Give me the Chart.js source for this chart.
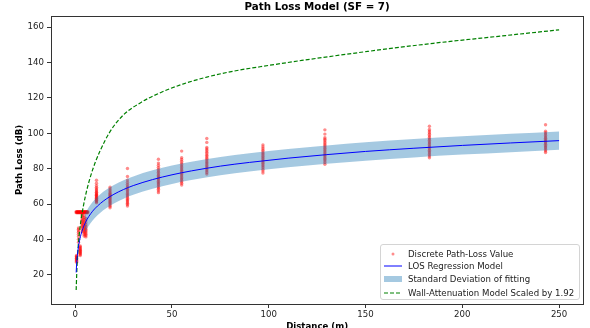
<!DOCTYPE html>
<html>
<head>
<meta charset="utf-8">
<title>Path Loss Model</title>
<script src="https://cdn.jsdelivr.net/npm/chart.js@4.4.1/dist/chart.umd.min.js"></script>
<style>
  html, body { margin: 0; padding: 0; background: #fff; overflow: hidden; }
  #wrap { position: relative; width: 590px; height: 340px; }
  #legend {
    position: absolute; left: 380px; top: 244px; width: 198px; height: 54px;
    border: 1px solid #d4d4d4; border-radius: 3px; background: rgba(255,255,255,0.8);
    font: 8.6px "DejaVu Sans", sans-serif; color: #222;
  }
  #legend .row { position: absolute; left: 0; height: 12px; line-height: 12px; white-space: nowrap; }
  #legend svg { position: absolute; left: 3px; top: 2px; }
  #legend span { position: absolute; left: 27px; top: 0; }
</style>
</head>
<body>
<div id="wrap">
  <canvas id="pathloss" width="590" height="340"></canvas>
  <div id="legend"></div>
</div>
<script>
// measured distances (m) and the path-loss readings at each of them (dB)
const lossDistances = [0.7, 1.7, 2.6, 3.6, 4.6, 5.5, 11, 18, 27, 43, 55, 68, 97, 129, 183, 243];
const lossValues = [
  [27.2, 27.8, 28.3, 28.7, 29.1, 29.4, 29.8, 30.2, 30.6, 31.0],
  [38.5, 40.2, 41.8, 43.0, 44.1, 45.0, 45.8, 46.6],
  [31.0, 31.6, 32.1, 32.6, 33.0, 33.4, 33.9, 34.3, 34.8, 35.3, 35.9, 36.4],
  [44.5, 45.5, 46.5, 47.3, 48.0, 48.8, 49.5, 50.3, 51.0, 51.8, 52.7, 53.6, 54.4],
  [42.0, 43.0, 43.8, 44.6, 45.4, 46.2, 47.0, 47.8, 48.7, 49.6, 50.5, 51.5, 52.5, 53.5],
  [41.5, 42.3, 43.0, 43.7, 44.4, 45.1, 45.9, 46.7, 47.6, 48.5, 49.6, 50.8, 52.0],
  [60.8, 61.3, 61.8, 62.2, 62.6, 63.0, 63.4, 63.8, 64.2, 64.6, 65.0, 65.4, 65.8, 66.3, 66.8, 67.4, 68.0, 68.7, 69.5, 70.5, 71.8, 73.5],
  [58.0, 58.8, 59.5, 60.2, 60.8, 61.4, 62.0, 62.6, 63.2, 63.8, 64.4, 65.0, 65.6, 66.2, 66.9, 67.7, 68.6, 69.6],
  [59.0, 59.8, 60.5, 61.2, 61.9, 62.6, 63.3, 64.0, 64.7, 65.4, 66.1, 66.9, 67.7, 68.5, 69.4, 70.3, 71.3, 72.4, 73.6, 75.6, 80.2],
  [66.5, 67.5, 68.4, 69.2, 70.0, 70.8, 71.5, 72.2, 72.9, 73.6, 74.3, 75.0, 75.7, 76.4, 77.2, 78.0, 78.9, 79.8, 80.8, 82.0, 83.2, 85.4],
  [70.8, 71.8, 72.7, 73.5, 74.3, 75.1, 75.9, 76.7, 77.5, 78.3, 79.1, 79.9, 80.7, 81.5, 82.4, 83.3, 84.3, 85.3, 86.3, 90.0],
  [77.0, 77.9, 78.8, 79.6, 80.4, 81.2, 82.0, 82.8, 83.6, 84.4, 85.2, 86.0, 86.8, 87.6, 88.5, 89.4, 90.3, 91.2, 92.0, 94.9, 97.1],
  [77.6, 78.8, 79.8, 80.7, 81.5, 82.3, 83.1, 83.9, 84.7, 85.5, 86.3, 87.1, 87.9, 88.7, 89.5, 90.4, 91.3, 92.3, 93.5],
  [82.5, 83.5, 84.4, 85.2, 86.0, 86.8, 87.6, 88.4, 89.2, 90.0, 90.8, 91.6, 92.4, 93.2, 94.0, 94.9, 95.8, 96.7, 97.5, 99.6, 102.0],
  [86.2, 87.2, 88.1, 88.9, 89.7, 90.5, 91.3, 92.1, 92.9, 93.7, 94.5, 95.3, 96.1, 96.9, 97.7, 98.6, 99.5, 100.4, 101.3, 102.2, 104.0],
  [89.2, 90.1, 90.9, 91.7, 92.4, 93.1, 93.8, 94.5, 95.2, 95.9, 96.6, 97.3, 98.0, 98.8, 99.6, 100.4, 101.2, 104.9]
];
// the flat run of readings stuck at 55.5 dB close to the gateway
const plateauDistances = [0.5, 0.8, 1.1, 1.4, 1.7, 2.0, 2.3, 2.6, 2.9, 3.2, 3.5, 3.8, 4.1, 4.4, 4.7, 5.0, 5.3, 5.6, 5.9, 6.2, 6.5];
const plateauValue = 55.5;

// LOS regression curve
const modelDistances = [0.5, 0.75, 1, 1.5, 2, 3, 4, 5, 6, 8, 10, 13, 16, 20, 25, 30, 40, 50, 60, 75, 90, 110, 130, 150, 175, 200, 225, 250];
const losModel = [21.4, 26.3, 29.7, 34.6, 38.0, 42.9, 46.3, 49.0, 51.2, 54.6, 57.3, 60.4, 62.9, 65.6, 68.3, 70.5, 73.9, 76.6, 78.8, 81.5, 83.6, 86.0, 88.0, 89.8, 91.6, 93.2, 94.6, 95.9];

// +/- one standard deviation around the regression
const bandDistances = [5, 6, 8, 10, 13, 16, 20, 25, 30, 40, 50, 60, 75, 90, 110, 130, 150, 175, 200, 225, 250];
const bandUpper = [54.2, 56.4, 59.8, 62.5, 65.6, 68.1, 70.8, 73.5, 75.7, 79.1, 81.8, 84.0, 86.7, 88.8, 91.2, 93.2, 95.0, 96.8, 98.4, 99.8, 101.1];
const bandLower = [43.8, 46.0, 49.4, 52.1, 55.2, 57.7, 60.4, 63.1, 65.3, 68.7, 71.4, 73.6, 76.3, 78.4, 80.8, 82.8, 84.6, 86.4, 88.0, 89.4, 90.7];

// wall attenuation model (scaled by 1.92)
const wallDistances = [0.5, 1, 1.5, 2, 3, 4.5, 6, 8, 10.5, 13, 18, 25, 34, 44, 56, 68, 82, 100, 117, 151, 185, 220, 250];
const wallModel = [11.5, 26.5, 35.5, 42.0, 51.0, 60.5, 68.0, 76.0, 84.0, 90.5, 101.0, 110.5, 117.5, 123.0, 128.0, 131.8, 135.2, 138.4, 141.2, 146.3, 150.9, 155.0, 158.5];

const xTicks = [0, 50, 100, 150, 200, 250];
const yTicks = [20, 40, 60, 80, 100, 120, 140, 160];

const FONT = '"DejaVu Sans", sans-serif';

const toXY = (xs, ys) => xs.map((x, i) => ({ x: x, y: ys[i] }));

const lossPoints = [];
lossDistances.forEach((d, i) => {
  lossValues[i].forEach((v) => lossPoints.push({ x: d, y: v }));
});
plateauDistances.forEach((d) => {
  lossPoints.push({ x: d, y: plateauValue - 0.3 });
  lossPoints.push({ x: d, y: plateauValue + 0.3 });
});

// spines on all four sides, like the original
const frame = {
  id: 'frame',
  afterDatasetsDraw(chart) {
    const { ctx, chartArea: a } = chart;
    ctx.save();
    ctx.strokeStyle = '#333';
    ctx.lineWidth = 1;
    ctx.strokeRect(Math.round(a.left) + 0.5, Math.round(a.top) + 0.5,
      Math.round(a.right - a.left), Math.round(a.bottom - a.top));
    ctx.restore();
  }
};

const datasets = [
  {
    label: 'LOS Regression Model',
    data: toXY(modelDistances, losModel),
    borderColor: '#0000ff',
    borderWidth: 1,
    pointRadius: 0,
    cubicInterpolationMode: 'monotone',
    fill: false,
    order: 0
  },
  {
    label: 'Wall-Attenuation Model Scaled by 1.92',
    data: toXY(wallDistances, wallModel),
    borderColor: '#008000',
    borderWidth: 1.2,
    borderDash: [4, 2],
    pointRadius: 0,
    cubicInterpolationMode: 'monotone',
    fill: false,
    order: 1
  },
  {
    label: 'Standard Deviation of fitting',
    data: toXY(bandDistances, bandUpper),
    borderWidth: 0,
    borderColor: 'rgba(0,0,0,0)',
    backgroundColor: 'rgba(31,119,180,0.4)',
    pointRadius: 0,
    cubicInterpolationMode: 'monotone',
    fill: '+1',
    order: 2
  },
  {
    label: 'band lower',
    data: toXY(bandDistances, bandLower),
    borderWidth: 0,
    borderColor: 'rgba(0,0,0,0)',
    pointRadius: 0,
    cubicInterpolationMode: 'monotone',
    fill: false,
    order: 3
  },
  {
    label: 'Discrete Path-Loss Value',
    data: lossPoints,
    showLine: false,
    pointRadius: 1.7,
    pointBorderWidth: 0,
    pointBackgroundColor: 'rgba(255,0,0,0.45)',
    pointBorderColor: 'rgba(255,0,0,0)',
    order: 4
  }
];

const chart = new Chart(document.getElementById('pathloss'), {
  type: 'line',
  data: { datasets: datasets },
  options: {
    responsive: false,
    animation: false,
    devicePixelRatio: 1,
    events: [],
    layout: { padding: { left: 0, right: 6.7, top: 0, bottom: 0 } },
    plugins: {
      legend: { display: false },
      tooltip: { enabled: false },
      title: {
        display: true,
        text: 'Path Loss Model (SF = 7)',
        fullSize: false,
        color: '#000',
        font: { family: FONT, size: 10.3, weight: 'bold' },
        padding: { top: 1, bottom: 2.5 }
      }
    },
    scales: {
      x: {
        type: 'linear',
        min: -12.5,
        max: 262.5,
        afterFit: (scale) => { scale.height = 36; },
        afterBuildTicks: (scale) => { scale.ticks = xTicks.map((v) => ({ value: v })); },
        border: { display: false },
        grid: { display: true, drawOnChartArea: false, drawTicks: true, tickLength: 4, color: '#333' },
        ticks: { color: '#222', padding: 2, maxRotation: 0, font: { family: FONT, size: 8.6 } },
        title: {
          display: true,
          text: 'Distance (m)',
          color: '#000',
          font: { family: FONT, size: 8.6, weight: 'bold' },
          padding: { top: 0, bottom: 8 }
        }
      },
      y: {
        type: 'linear',
        min: 3.6,
        max: 166.4,
        afterFit: (scale) => { scale.width = 51; },
        afterBuildTicks: (scale) => { scale.ticks = yTicks.map((v) => ({ value: v })); },
        border: { display: false },
        grid: { display: true, drawOnChartArea: false, drawTicks: true, tickLength: 4, color: '#333' },
        ticks: { color: '#222', padding: 3, font: { family: FONT, size: 8.6 } },
        title: {
          display: true,
          text: 'Path Loss (dB)',
          color: '#000',
          font: { family: FONT, size: 8.6, weight: 'bold' },
          padding: { top: 14.8, bottom: 0 }
        }
      }
    }
  },
  plugins: [frame]
});

// legend box in the lower right corner, built from the dataset styles
const legendRows = [
  { ds: 4, kind: 'point', top: 2.5 },
  { ds: 0, kind: 'line', top: 15 },
  { ds: 2, kind: 'area', top: 28.3 },
  { ds: 1, kind: 'dash', top: 41.5 }
];
const legendBox = document.getElementById('legend');
legendRows.forEach((r) => {
  const ds = chart.data.datasets[r.ds];
  let handle = '';
  if (r.kind === 'point') {
    handle = '<circle cx="9" cy="4" r="1.5" fill="rgba(255,0,0,0.45)"/>';
  } else if (r.kind === 'line') {
    handle = '<line x1="0" y1="4" x2="18" y2="4" stroke="' + ds.borderColor + '" stroke-width="1"/>';
  } else if (r.kind === 'area') {
    handle = '<rect x="0" y="1" width="18" height="6" fill="' + ds.backgroundColor + '"/>';
  } else {
    handle = '<line x1="0" y1="4" x2="18" y2="4" stroke="' + ds.borderColor + '" stroke-width="1.2" stroke-dasharray="4,2"/>';
  }
  const row = document.createElement('div');
  row.className = 'row';
  row.style.top = r.top + 'px';
  row.innerHTML = '<svg width="18" height="8">' + handle + '</svg><span>' + ds.label + '</span>';
  legendBox.appendChild(row);
});
</script>
</body>
</html>
